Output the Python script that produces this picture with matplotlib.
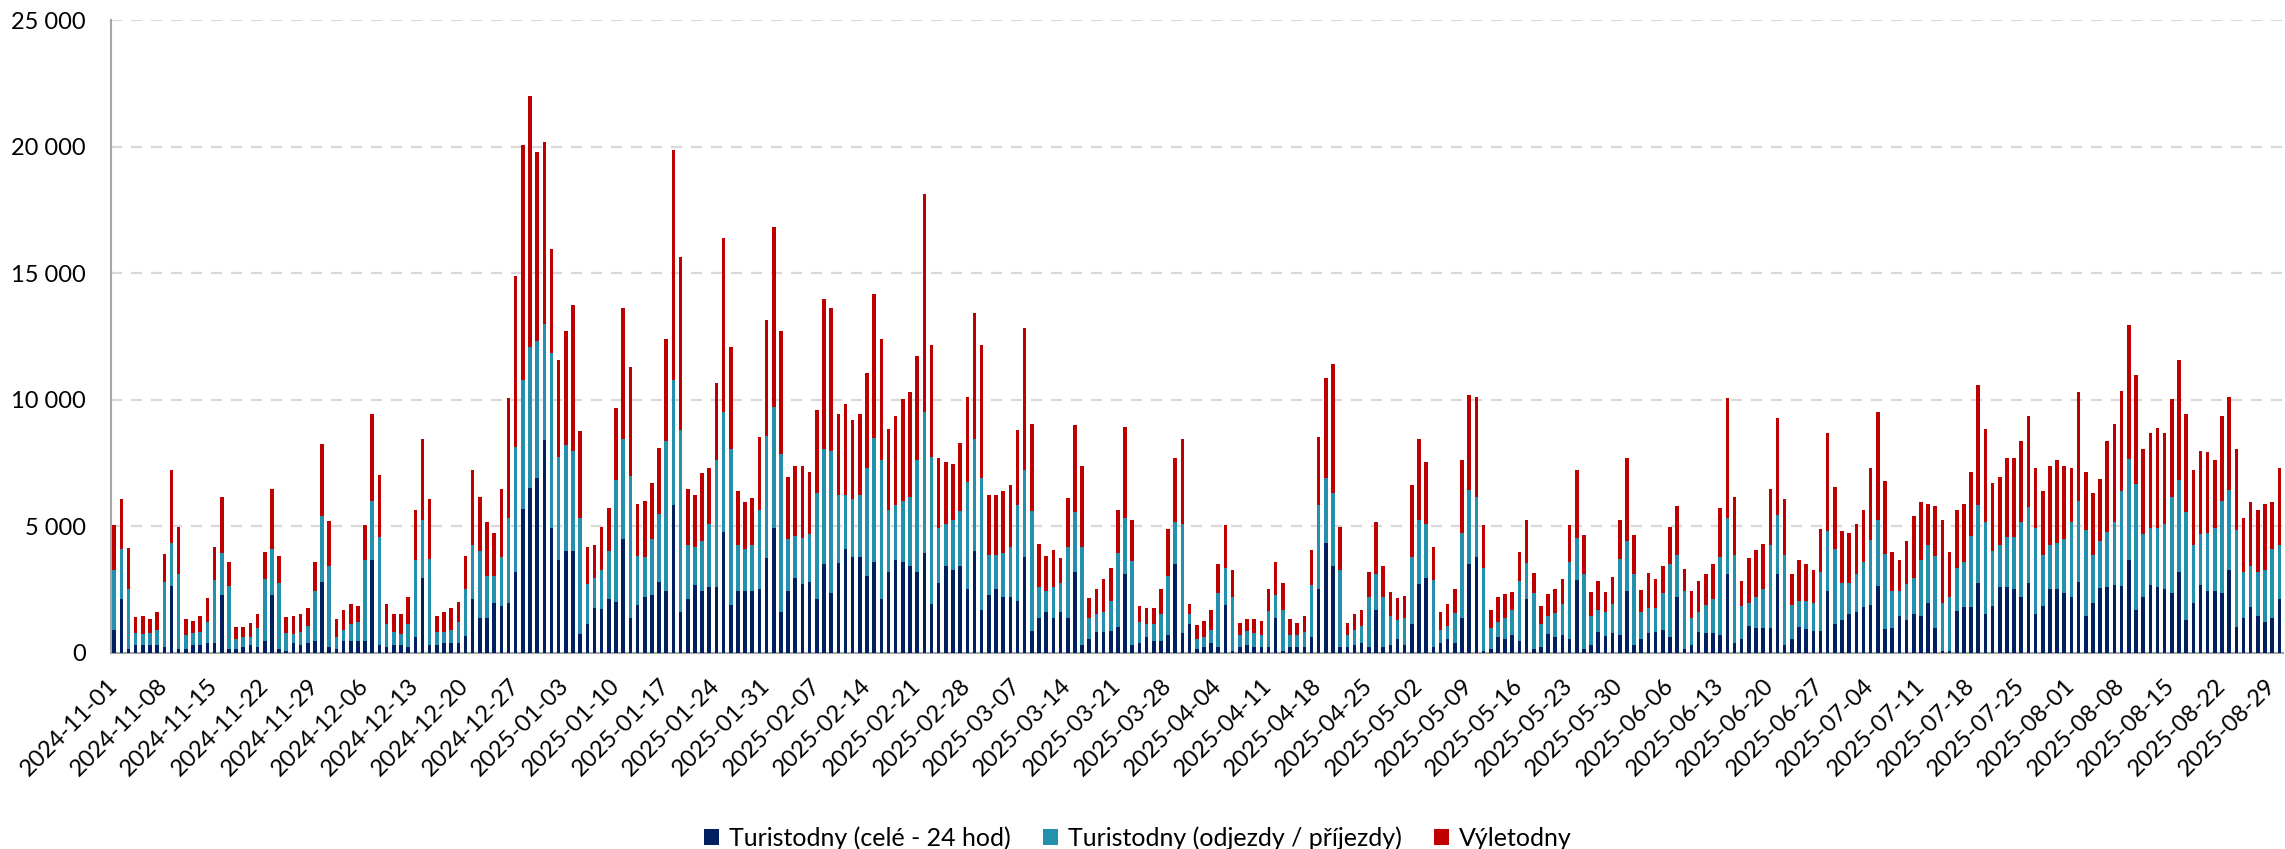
import numpy as np
import pandas as pd
import matplotlib
matplotlib.use('Agg')
import matplotlib.pyplot as plt
from matplotlib.ticker import FuncFormatter
from matplotlib.patches import Patch

plt.rcParams['font.family'] = ['Lato', 'DejaVu Sans']

# daily values, 2024-11-01 .. 2025-08-30
dates = pd.date_range('2024-11-01', '2025-08-30', freq='D')

celodenni = [
    910, 2130, 150, 320, 320, 320, 320, 230, 2650, 150,
    150, 320, 320, 390, 390, 2280, 150, 150, 230, 320,
    230, 470, 2280, 150, 80, 390, 320, 390, 470, 2800,
    230, 150, 470, 470, 470, 470, 3670, 320, 230, 320,
    320, 230, 620, 2950, 320, 320, 390, 390, 390, 670,
    2130, 1380, 1380, 1980, 1850, 1980, 3200, 5690, 6530, 6910,
    8420, 4930, 3670, 4030, 4030, 740, 1140, 1780, 1730, 2130,
    2010, 4500, 1380, 1900, 2210, 2280, 2800, 2450, 5860, 1610,
    2130, 2680, 2450, 2600, 2600, 4780, 1900, 2450, 2450, 2450,
    2530, 3760, 4930, 1610, 2450, 2950, 2720, 2800, 2130, 3520,
    2370, 3560, 4110, 3790, 3790, 3040, 3590, 2130, 3200, 3670,
    3590, 3440, 3200, 3940, 1930, 2770, 3440, 3270, 3440, 2530,
    4030, 1690, 2280, 2530, 2210, 2210, 2050, 3790, 870, 1380,
    1610, 1380, 1610, 1380, 3200, 320, 550, 820, 820, 870,
    1020, 3120, 320, 390, 620, 470, 470, 700, 3520, 790,
    1140, 150, 230, 390, 230, 1900, 80, 230, 320, 230,
    230, 230, 1380, 80, 230, 230, 230, 620, 2530, 4350,
    3440, 230, 230, 320, 390, 230, 1690, 230, 320, 550,
    320, 1140, 2720, 2950, 230, 390, 550, 390, 1380, 3520,
    3790, 80, 150, 620, 550, 700, 470, 2130, 150, 230,
    740, 620, 700, 550, 2890, 150, 320, 820, 670, 790,
    700, 2450, 320, 550, 790, 820, 910, 620, 2210, 150,
    320, 820, 790, 790, 700, 3120, 390, 550, 1060, 990,
    990, 990, 3120, 320, 550, 1020, 940, 870, 870, 2450,
    1140, 1290, 1540, 1610, 1810, 1900, 2650, 940, 990, 1460,
    1290, 1540, 1460, 1980, 990, 80, 80, 1660, 1810, 1810,
    2770, 1540, 1850, 2600, 2600, 2530, 2210, 2770, 1540, 1850,
    2530, 2530, 2370, 2210, 2800, 1460, 1980, 2570, 2600, 2680,
    2650, 3670, 1690, 2210, 2680, 2600, 2530, 2370, 3200, 1290,
    1980, 2680, 2450, 2450, 2370, 3270, 1020, 1380, 1810, 1460,
    1220, 1380, 2130,
]

odjezdy = [
    2360, 1980, 2380, 470, 420, 470, 590, 2560, 1700, 2970,
    550, 470, 500, 830, 2500, 1660, 2500, 400, 390, 300,
    760, 2450, 1830, 2620, 710, 350, 500, 670, 1980, 2620,
    3210, 470, 440, 670, 750, 3200, 2340, 4260, 910, 500,
    420, 910, 3050, 2300, 3390, 500, 430, 520, 830, 1860,
    2130, 2650, 1660, 1060, 1940, 3360, 4940, 5100, 5570, 5410,
    4580, 6930, 4080, 4190, 3960, 4600, 1580, 1170, 1540, 1900,
    4840, 3960, 5620, 1930, 1580, 2220, 2690, 5940, 4930, 7200,
    2130, 1510, 1980, 2500, 5030, 4750, 6170, 1810, 1660, 1810,
    3120, 4810, 4800, 6230, 2050, 1680, 1830, 1900, 4200, 4550,
    5620, 2680, 2130, 2300, 2450, 4280, 4920, 5500, 2450, 2190,
    2420, 2720, 4430, 5560, 5820, 2160, 1660, 1980, 2160, 4230,
    4430, 5220, 1600, 1350, 1730, 1980, 3810, 3440, 4730, 1220,
    840, 1220, 1160, 2810, 2370, 3870, 830, 720, 790, 1180,
    2920, 2220, 3320, 830, 520, 670, 1070, 2340, 1660, 4310,
    400, 400, 390, 520, 2140, 1460, 2130, 470, 550, 560,
    470, 1430, 900, 1610, 470, 470, 590, 2060, 3330, 2560,
    2890, 3040, 470, 590, 670, 1980, 1430, 1980, 1140, 740,
    1060, 2650, 2530, 2150, 2660, 520, 510, 1190, 3370, 2920,
    2370, 3280, 840, 600, 830, 990, 2370, 1430, 2220, 910,
    720, 960, 1230, 3040, 1660, 2970, 1140, 870, 940, 1140,
    3010, 1980, 2800, 1060, 990, 960, 1460, 2900, 1670, 2300,
    1060, 790, 1110, 1340, 3090, 2220, 3490, 1300, 920, 1220,
    1540, 3270, 2330, 3560, 1350, 1030, 1110, 1110, 2330, 2370,
    2970, 1480, 1230, 1510, 1780, 2560, 2600, 2970, 1460, 990,
    1430, 1410, 2210, 2280, 2840, 1900, 2130, 1700, 1780, 2820,
    3090, 3640, 2180, 1660, 1980, 2050, 2970, 3000, 3390, 2030,
    1730, 1820, 2130, 2970, 3210, 3410, 1900, 1860, 2180, 2500,
    3760, 4000, 4990, 2490, 2250, 2330, 2570, 3790, 3650, 4280,
    2280, 2020, 2300, 2480, 3640, 3170, 3850, 1820, 1630, 1740,
    2050, 2730, 2130,
]

vyletodny = [
    1780, 1980, 1610, 640, 720, 550, 700, 1120, 2880, 1860,
    640, 470, 640, 940, 1300, 2220, 940, 470, 400, 550,
    550, 1070, 2370, 1060, 640, 720, 720, 720, 1140, 2840,
    1780, 720, 780, 790, 630, 1380, 3440, 2450, 790, 720,
    800, 1070, 1980, 3210, 2380, 640, 790, 870, 790, 1300,
    2970, 2130, 2140, 1710, 2690, 4740, 6730, 9290, 9900, 7460,
    7170, 4110, 3840, 4510, 5770, 3440, 1470, 1310, 1710, 1710,
    2830, 5180, 4280, 2060, 2220, 2210, 2610, 4030, 9060, 6840,
    2220, 2050, 2680, 2220, 3040, 6850, 4030, 2150, 1860, 1860,
    2890, 4600, 7080, 4860, 2460, 2770, 2850, 2450, 3280, 5920,
    5650, 3210, 3610, 3120, 3210, 3750, 5650, 4790, 3210, 3500,
    4040, 4130, 4110, 8620, 4430, 2770, 2450, 2220, 2710, 3360,
    4950, 5270, 2360, 2360, 2470, 2450, 2950, 5590, 3460, 1710,
    1380, 1480, 990, 1930, 3440, 3210, 780, 990, 1310, 1310,
    1710, 3600, 1610, 630, 640, 640, 990, 1860, 2520, 3360,
    390, 560, 640, 780, 1150, 1690, 1060, 470, 470, 550,
    560, 870, 1310, 1080, 640, 470, 640, 1400, 2680, 3960,
    5100, 1710, 470, 630, 630, 990, 2060, 1230, 940, 870,
    870, 2850, 3210, 2450, 1300, 700, 870, 950, 2880, 3760,
    3960, 1690, 700, 990, 950, 710, 1150, 1690, 780, 710,
    870, 950, 990, 1460, 2680, 1540, 940, 1150, 790, 1070,
    1540, 3270, 1540, 870, 1370, 1140, 1070, 1460, 1930, 870,
    1070, 1230, 1220, 1390, 1950, 4740, 2280, 990, 1780, 1870,
    1780, 2220, 3850, 2210, 1220, 1620, 1470, 1290, 1700, 3870,
    2450, 2050, 1980, 1980, 2060, 2860, 4280, 2890, 1540, 1220,
    1710, 2470, 2300, 1630, 1980, 3270, 1780, 2290, 2300, 2520,
    4740, 3680, 2680, 2700, 3120, 3120, 3210, 3590, 2390, 2530,
    3140, 3280, 2900, 2140, 4280, 2280, 2450, 2450, 3610, 3880,
    3940, 5270, 4280, 3370, 3760, 3960, 3590, 3890, 4740, 3880,
    2970, 3290, 3200, 2700, 3350, 3680, 3200, 2140, 2530, 2450,
    2620, 1860, 3060,
]

series_names = ['Turistodny (celé - 24 hod)',
                'Turistodny (odjezdy / příjezdy)',
                'Výletodny']
colors = ['#002060', '#2391AD', '#C00000']

x = np.arange(len(dates))
b1 = np.array(celodenni)
b2 = b1 + np.array(odjezdy)

fig = plt.figure(figsize=(22.85, 8.49), dpi=100)
ax = fig.add_axes([0.0484, 0.2309, 0.9507, 0.7455])

ax.bar(x, celodenni, width=0.5, color=colors[0], zorder=3)
ax.bar(x, odjezdy, width=0.5, bottom=b1, color=colors[1], zorder=3)
ax.bar(x, vyletodny, width=0.5, bottom=b2, color=colors[2], zorder=3)

ax.set_xlim(-0.5, len(x) - 0.5)
ax.set_ylim(0, 25000)
ax.set_yticks(np.arange(0, 25001, 5000))
ax.yaxis.set_major_formatter(FuncFormatter(lambda v, p: f'{int(v):,}'.replace(',', ' ')))
ax.grid(axis='y', color='#D9D9D9', linestyle=(0, (5, 4)), linewidth=1.6, zorder=0)

ax.set_xticks(x[::7])
ax.set_xticklabels(dates[::7].strftime('%Y-%m-%d'), rotation=45, ha='right',
                   va='center', rotation_mode='anchor')

ax.tick_params(axis='x', length=0, pad=21, labelsize=17, colors='black')
ax.tick_params(axis='y', length=0, pad=18, labelsize=17, colors='black')

for s in ['top', 'right']:
    ax.spines[s].set_visible(False)
ax.spines['left'].set_color('#A6A6A6')
ax.spines['bottom'].set_color('#A6A6A6')
ax.spines['left'].set_linewidth(1.5)
ax.spines['bottom'].set_linewidth(1.5)

handles = [Patch(facecolor=c) for c in colors]
fig.legend(handles, series_names, loc='center', bbox_to_anchor=(0.498, 0.013),
           ncol=3, frameon=False, fontsize=18, handlelength=0.6, handleheight=0.6,
           handletextpad=0.4, columnspacing=1.3)

fig.savefig('out.png', dpi=100)
